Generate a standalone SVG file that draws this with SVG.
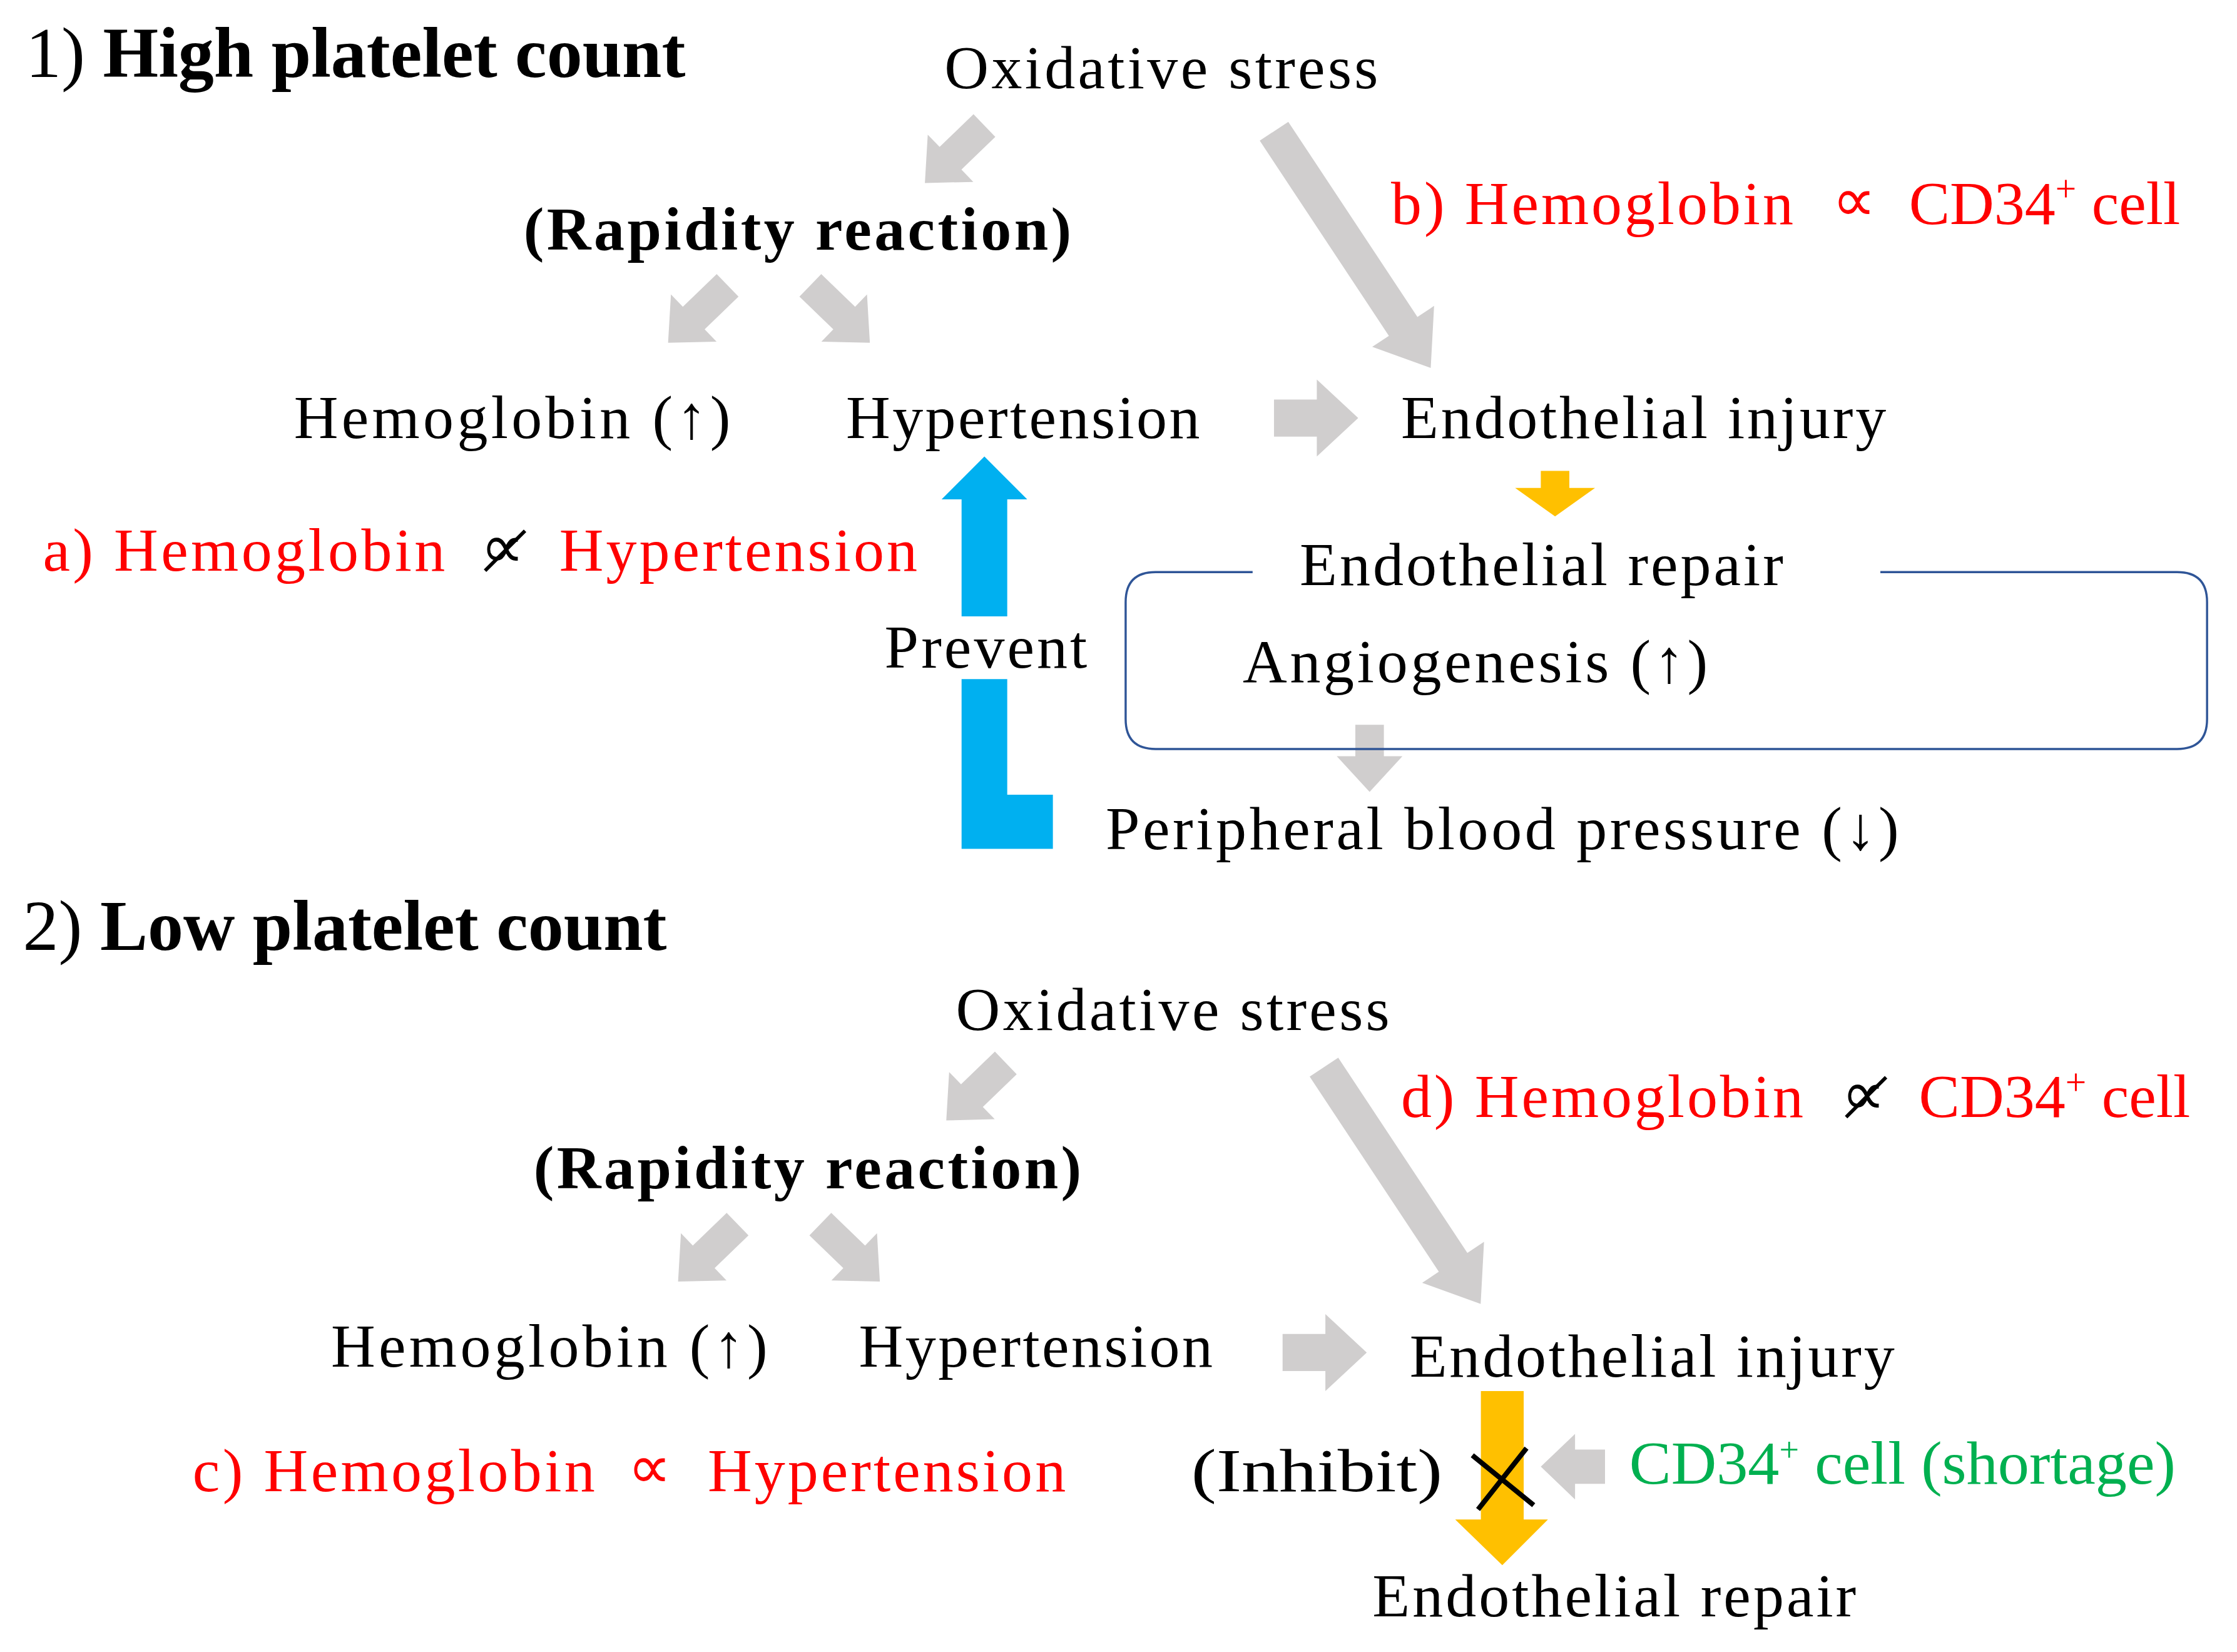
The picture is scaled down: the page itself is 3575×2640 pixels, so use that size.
<svg xmlns="http://www.w3.org/2000/svg" width="3575" height="2640" viewBox="0 0 3575 2640">
<style>
text{font-family:"Liberation Serif","Times New Roman",serif;font-size:43px;fill:#000}
.t{font-size:50px}
.b{font-weight:bold}
.r{fill:#ff0000}
.g{fill:#00b050}
.ga{fill:#d0cece}
.ya{fill:#ffc000}
.bl{fill:#00b0f0}
.x{stroke:#000;stroke-width:2.5}
</style>
<defs>
<path id="sa" d="M0,-11 L33,-11 L33,-23 L58,0 L33,23 L33,11 L0,11 Z"/>
<path id="la" d="M0,-12 L164,-12 L164,-26 L199,0 L164,26 L164,12 L0,12 Z"/>
<path id="ra" d="M0,-13 L30,-13 L30,-27 L59,0 L30,27 L30,13 L0,13 Z"/>
</defs>
<rect width="3575" height="2640" fill="#fff"/>
<g transform="scale(2.28)">
<g id="connectors">
<use href="#sa" class="ga" transform="translate(690,88) rotate(136)"/>
<use href="#la" class="ga" transform="translate(893,92) rotate(56.5)"/>
<use href="#sa" class="ga" transform="translate(510,200) rotate(136)"/>
<use href="#sa" class="ga" transform="translate(568,200) rotate(44)"/>
<use href="#ra" class="ga" transform="translate(893,293)"/>
<path class="ya" d="M1080,330 L1100,330 L1100,342 L1118,342 L1090,362 L1062,342 L1080,342 Z"/>
<path class="bl" d="M674,432 L674,350 L660,350 L690,320 L720,350 L706,350 L706,432 Z"/>
<path class="bl" d="M674,476 L706,476 L706,557 L738,557 L738,595 L674,595 Z"/>
<path class="ga" d="M950,508 L970,508 L970,530 L983,530 L960,555 L937,530 L950,530 Z"/>
<use href="#sa" class="ga" transform="translate(705,745) rotate(136)"/>
<use href="#la" class="ga" transform="translate(928,748) rotate(56.5)"/>
<use href="#sa" class="ga" transform="translate(517,858) rotate(136)"/>
<use href="#sa" class="ga" transform="translate(575,858) rotate(44)"/>
<use href="#ra" class="ga" transform="translate(899,948)"/>
<path class="ya" d="M1038,975 L1068,975 L1068,1065 L1085,1065 L1053,1097 L1020,1065 L1038,1065 Z"/>
<path class="ga" d="M1125,1016 L1104,1016 L1104,1005 L1080,1028 L1104,1051 L1104,1040 L1125,1040 Z"/>
<path d="M1032,1020 L1075,1055 M1070,1015 L1036,1058" stroke="#000" stroke-width="3.5" fill="none"/>
<path d="M878,401 L810,401 Q789,401 789,422 L789,504 Q789,525 810,525 L1526,525 Q1547,525 1547,504 L1547,422 Q1547,401 1526,401 L1318,401" fill="none" stroke="#2f5597" stroke-width="1.5"/>
</g>
<g id="n-title1"><text x="18" y="54" class="t">1) <tspan class="b">High platelet count</tspan></text></g>
<g id="n-ox1"><text x="662" y="62" textLength="304" lengthAdjust="spacing">Oxidative stress</text></g>
<g id="n-rap1"><text x="367" y="175" class="b" textLength="384" lengthAdjust="spacing">(Rapidity reaction)</text></g>
<g id="n-hb1"><text x="206" y="307" textLength="306" lengthAdjust="spacing">Hemoglobin (↑)</text></g>
<g id="n-ht1"><text x="593" y="307" textLength="248" lengthAdjust="spacing">Hypertension</text></g>
<g id="n-ei1"><text x="982" y="307" textLength="340" lengthAdjust="spacing">Endothelial injury</text></g>
<g id="n-b"><text x="975" y="157" class="r" textLength="282" lengthAdjust="spacing">b) Hemoglobin</text><text x="1284" y="155" class="r">∝</text><text x="1338" y="157" class="r">CD34<tspan dy="-16" style="font-size:26px">+</tspan><tspan dy="16"> cell</tspan></text></g>
<g id="n-a"><text x="30" y="400" class="r" textLength="282" lengthAdjust="spacing">a) Hemoglobin</text><text x="337" y="398">∝</text><line class="x" x1="340" y1="400" x2="368" y2="372"/><text x="392" y="400" class="r" textLength="251" lengthAdjust="spacing">Hypertension</text></g>
<g id="n-prev"><text x="620" y="468" textLength="142" lengthAdjust="spacing">Prevent</text></g>
<g id="n-er1"><text x="911" y="410" textLength="339" lengthAdjust="spacing">Endothelial repair</text></g>
<g id="n-ang"><text x="871" y="478" textLength="326" lengthAdjust="spacing">Angiogenesis (↑)</text></g>
<g id="n-pbp"><text x="775" y="595" textLength="556" lengthAdjust="spacing">Peripheral blood pressure (↓)</text></g>
<g id="n-title2"><text x="16" y="666" class="t">2) <tspan class="b">Low platelet count</tspan></text></g>
<g id="n-ox2"><text x="670" y="722" textLength="304" lengthAdjust="spacing">Oxidative stress</text></g>
<g id="n-rap2"><text x="374" y="833" class="b" textLength="384" lengthAdjust="spacing">(Rapidity reaction)</text></g>
<g id="n-hb2"><text x="232" y="958" textLength="306" lengthAdjust="spacing">Hemoglobin (↑)</text></g>
<g id="n-ht2"><text x="602" y="958" textLength="248" lengthAdjust="spacing">Hypertension</text></g>
<g id="n-ei2"><text x="988" y="965" textLength="340" lengthAdjust="spacing">Endothelial injury</text></g>
<g id="n-d"><text x="982" y="783" class="r" textLength="282" lengthAdjust="spacing">d) Hemoglobin</text><text x="1291" y="781">∝</text><line class="x" x1="1294" y1="783" x2="1322" y2="755"/><text x="1345" y="783" class="r">CD34<tspan dy="-16" style="font-size:26px">+</tspan><tspan dy="16"> cell</tspan></text></g>
<g id="n-c"><text x="135" y="1045" class="r" textLength="282" lengthAdjust="spacing">c) Hemoglobin</text><text x="440" y="1043" class="r">∝</text><text x="496" y="1045" class="r" textLength="251" lengthAdjust="spacing">Hypertension</text></g>
<g id="n-inh"><text x="835" y="1045" textLength="176" lengthAdjust="spacingAndGlyphs">(Inhibit)</text></g>
<g id="n-cd"><text x="1142" y="1040" class="g" textLength="383" lengthAdjust="spacingAndGlyphs">CD34<tspan dy="-16" style="font-size:24px">+</tspan><tspan dy="16"> cell (shortage)</tspan></text></g>
<g id="n-er2"><text x="962" y="1133" textLength="339" lengthAdjust="spacing">Endothelial repair</text></g>
</g>
</svg>
